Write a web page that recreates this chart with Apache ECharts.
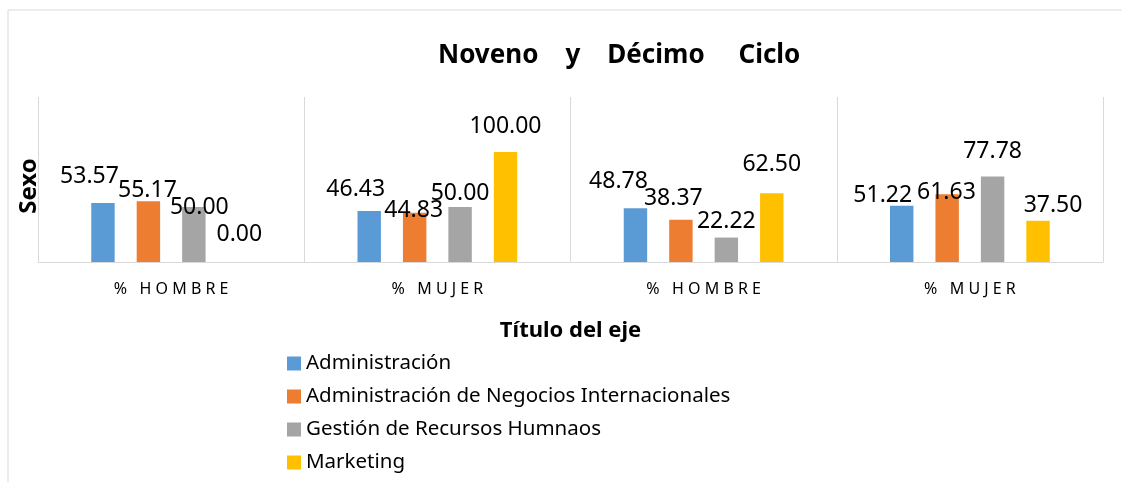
<!DOCTYPE html>
<html>
<head>
<meta charset="utf-8">
<script src="https://cdn.jsdelivr.net/npm/echarts@6/dist/echarts.min.js"></script>
<style>
  html, body { margin: 0; padding: 0; background: #fff; overflow: hidden; }
  #chart { width: 1122px; height: 482px; }
</style>
</head>
<body>
<div id="chart"></div>
<script>
// categorias del eje X
var categorias = ['% HOMBRE', '% MUJER', '% HOMBRE', '% MUJER'];
var programas = ['Administración', 'Administración de Negocios Internacionales', 'Gestión de Recursos Humnaos', 'Marketing'];
// valores por programa
var administracion = [53.57, 46.43, 48.78, 51.22];
var negociosInt = [55.17, 44.83, 38.37, 61.63];
var recursosHum = [50.00, 50.00, 22.22, 77.78];
var marketing = [0.00, 100.00, 62.50, 37.50];

var colores = ['#5B9BD5', '#ED7D31', '#A5A5A5', '#FFC000'];

// desplazamiento de etiquetas (como quedaron movidas en el original)
var etiquetaDx = [
  [-13.5, -13.5, -17, -19],
  [-1, -1, -7.6, -0.7],
  [5.5, 0, 0, 0],
  [0, 0, 0, 15]
];
var etiquetaGap = [
  [19, 14, 19, 3],
  [3, -5, 14, -6],
  [-8, 6, 9, 17],
  [20, 18, 21, 8]
];
var baseGap = 4;

var valores = [administracion, negociosInt, recursosHum, marketing];

var chart = echarts.init(document.getElementById('chart'));

var series = valores.map(function (vals, s) {
  return {
    name: programas[s],
    type: 'bar',
    barCategoryGap: '40%',
    barGap: '94%',
    itemStyle: { color: colores[s] },
    data: vals.map(function (v, i) {
      return {
        value: v,
        label: { offset: [etiquetaDx[s][i], baseGap - etiquetaGap[s][i]] }
      };
    }),
    label: {
      show: true,
      position: 'top',
      distance: 0,
      color: '#000',
      fontFamily: 'Noto Sans',
      fontSize: 23,
      formatter: function (p) { return p.value.toFixed(2); }
    }
  };
});

chart.setOption({
  animation: false,
  backgroundColor: '#fff',
  title: {
    text: 'Noveno    y    Décimo     Ciclo',
    left: 438,
    top: 43,
    padding: 0,
    textStyle: { fontFamily: 'Noto Sans', fontWeight: 'bold', fontSize: 26, color: '#000' }
  },
  graphic: [{
    type: 'rect',
    shape: { x: 8, y: 10, width: 1300, height: 700 },
    style: { fill: 'none', stroke: '#d9d9d9', lineWidth: 1 },
    silent: true,
    z: -1
  }],
  legend: {
    orient: 'vertical',
    left: 287,
    top: 353,
    padding: 0,
    itemWidth: 14,
    itemHeight: 14,
    itemGap: 12,
    icon: 'rect',
    textStyle: { fontFamily: 'Noto Sans', fontSize: 20.5, color: '#000', padding: [0, 0, 0, 0] },
    data: programas
  },
  grid: { left: 38, right: 19, top: 97, bottom: 220, containLabel: false },
  xAxis: {
    type: 'category',
    data: categorias,
    name: 'Título del eje',
    nameLocation: 'middle',
    nameGap: 58,
    nameTextStyle: { fontFamily: 'Noto Sans', fontWeight: 'bold', fontSize: 22, color: '#000' },
    axisLine: { lineStyle: { color: '#d9d9d9', width: 1 } },
    axisTick: { show: false },
    splitLine: { show: true, lineStyle: { color: '#d9d9d9', width: 1 } },
    axisLabel: {
      margin: 19,
      fontFamily: 'Noto Sans',
      fontSize: 16,
      color: '#000',
      formatter: function (v) { return v.split('').join(' '); }
    }
  },
  yAxis: {
    type: 'value',
    min: 0,
    max: 150,
    name: 'Sexo',
    nameLocation: 'middle',
    nameGap: -3,
    nameTextStyle: { fontFamily: 'Noto Sans', fontWeight: 'bold', fontSize: 24, color: '#000', padding: [0, 13, 0, 0] },
    axisLine: { show: false },
    axisTick: { show: false },
    axisLabel: { show: false },
    splitLine: { show: false }
  },
  series: series
});
</script>
</body>
</html>
